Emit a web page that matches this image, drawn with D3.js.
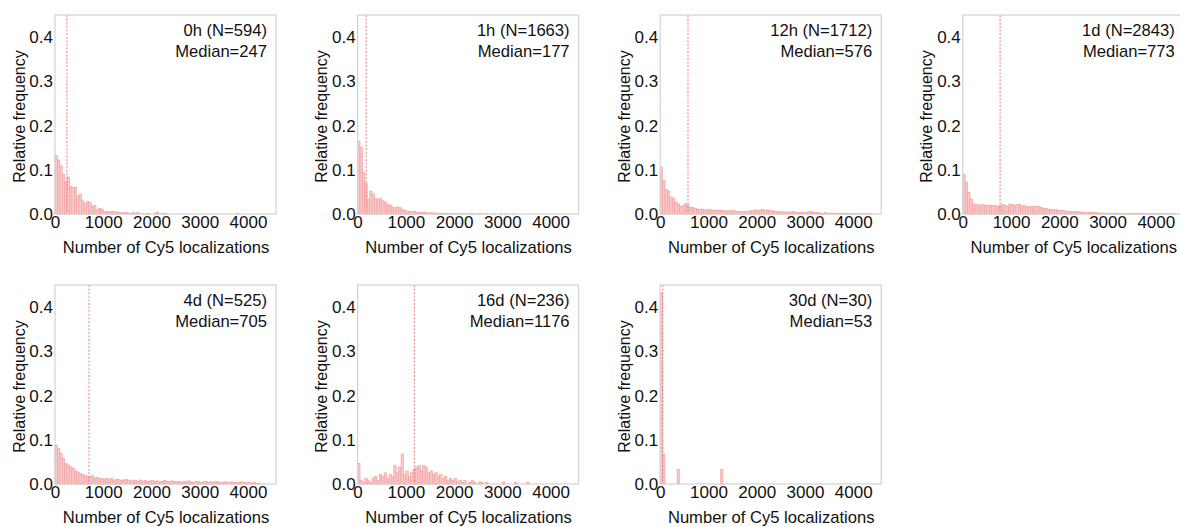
<!DOCTYPE html>
<html>
<head>
<meta charset="utf-8">
<script src="https://cdn.jsdelivr.net/npm/d3@7"></script>
<style>
  body { margin: 0; background: #fff; }
  svg { display: block; font-family: "Liberation Sans", Arial, sans-serif; }
</style>
</head>
<body>
<svg id="chart" width="1180" height="527"></svg>
<script>
// Histogram bins are 50 localizations wide, starting at 0.
const binWidth = 50;
const xTicks = [0, 1000, 2000, 3000, 4000];
const yTicks = [0, 0.1, 0.2, 0.3, 0.4];
const xLabel = "Number of Cy5 localizations";
const yLabel = "Relative frequency";

const timepoints = ["0h", "1h", "12h", "1d", "4d", "16d", "30d"];
const cellCounts = [594, 1663, 1712, 2843, 525, 236, 30];
const medians = [247, 177, 576, 773, 705, 1176, 53];

// Relative frequency per bin (bin i covers [50*i, 50*(i+1)) ).
const freq0h = [
  0.132, 0.122, 0.109, 0.090, 0.072, 0.084, 0.062, 0.060, 0.060, 0.041,
  0.045, 0.030, 0.024, 0.028, 0.026, 0.017, 0.019, 0.009, 0.013, 0.011,
  0.005, 0.006, 0.004, 0.006, 0.005, 0.005, 0.004, 0.002, 0.003, 0.004,
  0.002, 0.0017, 0.003, 0.0017, 0.0034, 0, 0.0017, 0, 0.0017, 0,
  0, 0.0017, 0.0034, 0, 0.0017, 0.0017, 0, 0, 0, 0,
  0, 0, 0, 0, 0, 0, 0, 0, 0, 0,
  0, 0, 0, 0, 0, 0, 0, 0, 0, 0,
  0, 0, 0, 0, 0, 0.0017
];
const freq1h = [
  0.165, 0.151, 0.094, 0.070, 0.034, 0.052, 0.045, 0.036, 0.033, 0.035,
  0.030, 0.027, 0.022, 0.020, 0.016, 0.014, 0.016, 0.015, 0.011, 0.008,
  0.007, 0.006, 0.005, 0.006, 0.004, 0.004, 0.003, 0.004, 0.003, 0.002,
  0.003, 0.002, 0.002, 0.0018, 0.0012, 0.0018, 0.0012, 0.0012, 0.0006, 0.0012,
  0.0012, 0.0006, 0.0006, 0.0012, 0.0006, 0, 0.0006, 0.0012, 0.0006, 0,
  0.0006, 0.0006, 0, 0.0006, 0, 0, 0.0006, 0, 0, 0.0006,
  0, 0.0006, 0, 0, 0.0006
];
const freq12h = [
  0.106, 0.076, 0.055, 0.052, 0.038, 0.036, 0.027, 0.023, 0.017, 0.019,
  0.023, 0.021, 0.015, 0.015, 0.013, 0.011, 0.011, 0.011, 0.010, 0.009,
  0.010, 0.009, 0.009, 0.008, 0.009, 0.008, 0.008, 0.007, 0.007, 0.008,
  0.007, 0.006, 0.006, 0.005, 0.006, 0.005, 0.006, 0.007, 0.008, 0.009,
  0.008, 0.009, 0.010, 0.008, 0.009, 0.007, 0.008, 0.006, 0.006, 0.005,
  0.005, 0.004, 0.005, 0.004, 0.006, 0.005, 0.004, 0.003, 0.004, 0.003,
  0.004, 0.005, 0.006, 0.004, 0.003, 0.003, 0.002, 0.002, 0.003, 0.002,
  0.002, 0.002, 0.001, 0.002, 0.001, 0.001, 0.002, 0.001, 0.001, 0.001,
  0.001, 0.0006, 0.0006, 0.0012, 0.0006, 0.0006, 0.0006, 0.0006
];
const freq1d = [
  0.090, 0.072, 0.049, 0.034, 0.023, 0.021, 0.021, 0.020, 0.021, 0.020,
  0.020, 0.019, 0.020, 0.019, 0.018, 0.019, 0.022, 0.020, 0.017, 0.021,
  0.022, 0.019, 0.021, 0.022, 0.018, 0.020, 0.017, 0.016, 0.017, 0.016,
  0.018, 0.017, 0.015, 0.013, 0.012, 0.011, 0.010, 0.009, 0.010, 0.009,
  0.008, 0.008, 0.007, 0.006, 0.006, 0.005, 0.006, 0.005, 0.005, 0.004,
  0.004, 0.003, 0.004, 0.003, 0.003, 0.003, 0.002, 0.002, 0.002, 0.0014,
  0.002, 0.0014, 0.0014, 0.002, 0.0014, 0.0011, 0.0014, 0.0011, 0.0014, 0.0011,
  0.0007, 0.0011, 0.0014, 0.0007, 0.0011, 0.0007, 0.0007, 0.0011, 0.0007, 0.0007,
  0.0011, 0.0007, 0.0004, 0.0007, 0.0007, 0.0004, 0.0007, 0.0004, 0.0004
];
const freq4d = [
  0.088, 0.080, 0.069, 0.058, 0.046, 0.043, 0.039, 0.036, 0.030, 0.027,
  0.024, 0.022, 0.020, 0.018, 0.016, 0.019, 0.014, 0.015, 0.012, 0.013,
  0.011, 0.012, 0.010, 0.013, 0.009, 0.011, 0.010, 0.008, 0.009, 0.010,
  0.008, 0.009, 0.007, 0.008, 0.006, 0.009, 0.007, 0.008, 0.006, 0.007,
  0.008, 0.006, 0.007, 0.005, 0.006, 0.008, 0.006, 0.005, 0.007, 0.006,
  0.005, 0.006, 0.004, 0.006, 0.005, 0.007, 0.005, 0.004, 0.006, 0.005,
  0.004, 0.005, 0.006, 0.004, 0.005, 0.004, 0.006, 0.005, 0.004, 0.003,
  0.005, 0.004, 0.003, 0.005, 0.004, 0.003, 0.004, 0.005, 0.003, 0.004,
  0.003, 0.002, 0.003, 0.002, 0.002
];
const freq16d = [
  0.0466, 0.0085, 0.0042, 0.0127, 0.0085, 0.0042, 0.0127, 0.0169, 0.0085, 0.0212,
  0.0169, 0.0254, 0.0127, 0.0212, 0.0169, 0.0424, 0.0254, 0.0381, 0.0678, 0.0212,
  0.0297, 0.0169, 0.0254, 0.0339, 0.0381, 0.0424, 0.0297, 0.0424, 0.0381, 0.0254,
  0.0297, 0.0212, 0.0254, 0.0169, 0.0212, 0.0127, 0.0169, 0.0085, 0.0127, 0.0085,
  0.0127, 0.0042, 0.0085, 0.0042, 0.0085, 0, 0.0042, 0.0085, 0.0042, 0,
  0.0042, 0.0042, 0, 0.0042, 0, 0, 0, 0, 0, 0,
  0.0042, 0, 0, 0, 0, 0.0042, 0, 0, 0, 0,
  0.0042
];
const freq30d = [
  0.433, 0.067, 0, 0, 0, 0, 0, 0.033, 0, 0,
  0, 0, 0, 0, 0, 0, 0, 0, 0, 0,
  0, 0, 0, 0, 0, 0.033
];
const frequencies = [freq0h, freq1h, freq12h, freq1d, freq4d, freq16d, freq30d];

// Panel grid
const panelW = 221, panelH = 199;
const colX = [55, 357.6, 660.2, 962.8];
const rowY = [15, 285];

const svg = d3.select("#chart");
const barFill = "#f9c9c9", barStroke = "#f19c9c";
const fontFamily = "Liberation Sans, Arial, sans-serif";

timepoints.forEach((tp, k) => {
  const left = colX[k % 4], top = rowY[Math.floor(k / 4)];
  const g = svg.append("g").attr("transform", `translate(${left},${top})`);

  const x = d3.scaleLinear().domain([0, 4580]).range([0, panelW]);
  const y = d3.scaleLinear().domain([0, 0.45]).range([panelH, 0]);

  const bins = frequencies[k]
    .map((v, i) => ({ x0: i * binWidth, x1: (i + 1) * binWidth, v }))
    .filter(d => d.v > 0);

  g.append("g").selectAll("rect").data(bins).join("rect")
    .attr("x", d => x(d.x0))
    .attr("width", d => x(d.x1) - x(d.x0))
    .attr("y", d => y(d.v))
    .attr("height", d => y(0) - y(d.v))
    .attr("fill", barFill)
    .attr("stroke", barStroke)
    .attr("stroke-width", 0.6);

  // median marker
  g.append("line")
    .attr("x1", x(medians[k])).attr("x2", x(medians[k]))
    .attr("y1", 0).attr("y2", panelH)
    .attr("stroke", "#ec7a7a").attr("stroke-width", 1)
    .attr("stroke-dasharray", "2,1.6");

  // axes frame
  g.append("rect")
    .attr("x", 0).attr("y", 0).attr("width", panelW).attr("height", panelH)
    .attr("fill", "none").attr("stroke", "#d2d2d2").attr("stroke-width", 1.2);

  // y ticks
  const yAxis = d3.axisLeft(y).tickValues(yTicks).tickFormat(d3.format(".1f"))
    .tickSize(0).tickPadding(2);
  g.append("g").call(yAxis)
    .call(s => s.select(".domain").remove())
    .call(s => s.selectAll("text").attr("font-size", 17).attr("fill", "#111")
      .attr("font-family", fontFamily));

  // x ticks
  const xAxis = d3.axisBottom(x).tickValues(xTicks).tickFormat(d3.format("d"))
    .tickSize(0).tickPadding(2);
  g.append("g").attr("transform", `translate(0,${panelH})`).call(xAxis)
    .call(s => s.select(".domain").remove())
    .call(s => s.selectAll("text").attr("font-size", 17).attr("fill", "#111")
      .attr("font-family", fontFamily));

  // axis titles
  g.append("text")
    .attr("x", panelW / 2 + 0.5).attr("y", panelH + 38.5)
    .attr("text-anchor", "middle").attr("font-size", 16.6).attr("fill", "#111")
    .text(xLabel);
  g.append("text")
    .attr("transform", `translate(-30.5,${panelH / 2 + 2}) rotate(-90)`)
    .attr("text-anchor", "middle").attr("font-size", 16).attr("fill", "#111")
    .text(yLabel);

  // annotation
  g.append("text")
    .attr("x", panelW - 9).attr("y", 21)
    .attr("text-anchor", "end").attr("font-size", 16.6).attr("fill", "#111")
    .text(`${tp} (N=${cellCounts[k]})`);
  g.append("text")
    .attr("x", panelW - 9).attr("y", 41.5)
    .attr("text-anchor", "end").attr("font-size", 16.6).attr("fill", "#111")
    .text(`Median=${medians[k]}`);
});
</script>
</body>
</html>
